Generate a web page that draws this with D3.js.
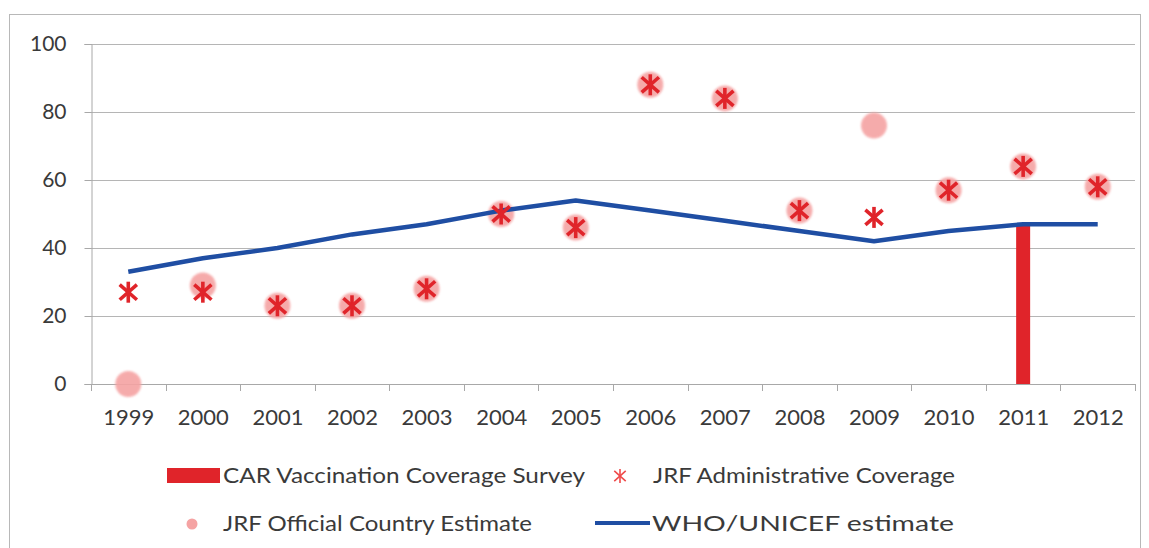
<!DOCTYPE html>
<html>
<head>
<meta charset="utf-8">
<script src="https://cdnjs.cloudflare.com/ajax/libs/d3/7.8.5/d3.min.js"></script>
<style>
  body { margin: 0; background: #fff; }
  svg text { font-family: Lato, "Open Sans", sans-serif; fill: #3a3a3a; }
</style>
</head>
<body>
<div id="chart"></div>
<script>
// data
var years = ["1999","2000","2001","2002","2003","2004","2005","2006","2007","2008","2009","2010","2011","2012"];
var whoUnicef = [33, 37, 40, 44, 47, 51, 54, 51, 48, 45, 42, 45, 47, 47];
var jrfAdmin = [27, 27, 23, 23, 28, 50, 46, 88, 84, 51, 49, 57, 64, 58];
var jrfOfficial = [0, 29, 23, 23, 28, 50, 46, 88, 84, 51, 76, 57, 64, 58];
var carSurvey = [{year: "2011", value: 47}];
var yTicks = [0, 20, 40, 60, 80, 100];

var W = 1149, H = 548;
var m = {left: 91, right: 1135, top: 44, bottom: 384};
var red = "#e0242a", pink = "#f5a3a3", blue = "#1f4ea3";

var svg = d3.select("#chart").append("svg")
    .attr("width", W).attr("height", H);

// soft edge for the pink dots
var f = svg.append("defs").append("filter").attr("id", "soft")
    .attr("x", "-30%").attr("y", "-30%").attr("width", "160%").attr("height", "160%");
f.append("feGaussianBlur").attr("stdDeviation", 1.2);

// outer frame
svg.append("rect")
    .attr("x", 9.5).attr("y", 14.5)
    .attr("width", 1131).attr("height", 545)
    .attr("fill", "#fff").attr("stroke", "#b8b8b8");

var x = d3.scaleBand().domain(years).range([m.left, m.right]);
var y = d3.scaleLinear().domain([0, 100]).range([m.bottom, m.top]);
function cx(d) { return x(d) + x.bandwidth() / 2; }

// gridlines
svg.append("g").selectAll("line")
    .data(yTicks.filter(function(d) { return d > 0; }))
    .enter().append("line")
    .attr("x1", m.left).attr("x2", m.right)
    .attr("y1", function(d) { return Math.round(y(d)) + 0.5; })
    .attr("y2", function(d) { return Math.round(y(d)) + 0.5; })
    .attr("stroke", "#b5b5b5").attr("stroke-width", 1);

// y axis
var yAxis = svg.append("g")
    .attr("transform", "translate(" + (m.left + 0.5) + ",0)")
    .call(d3.axisLeft(y).tickValues(yTicks).tickSize(7).tickPadding(18));
yAxis.select(".domain").attr("stroke", "#a8a8a8");
yAxis.selectAll(".tick line").attr("stroke", "#a8a8a8");
yAxis.selectAll("text").style("font-size", "21px").attr("fill", "#3a3a3a")
    .attr("font-family", "Lato, sans-serif");

// x axis line + ticks between categories
svg.append("line")
    .attr("x1", m.left).attr("x2", m.right)
    .attr("y1", m.bottom + 0.5).attr("y2", m.bottom + 0.5)
    .attr("stroke", "#a8a8a8");
var bounds = years.map(function(d) { return x(d); }).concat([m.right]);
svg.append("g").selectAll("line")
    .data(bounds).enter().append("line")
    .attr("x1", function(d) { return Math.round(d) + 0.5; })
    .attr("x2", function(d) { return Math.round(d) + 0.5; })
    .attr("y1", m.bottom).attr("y2", m.bottom + 7)
    .attr("stroke", "#a8a8a8");
svg.append("g").selectAll("text")
    .data(years).enter().append("text")
    .attr("x", function(d) { return cx(d) - 25; })
    .attr("y", 425)
    .attr("textLength", 51).attr("lengthAdjust", "spacingAndGlyphs")
    .style("font-size", "21px")
    .text(function(d) { return d; });

// survey bar
svg.append("g").selectAll("rect")
    .data(carSurvey).enter().append("rect")
    .attr("x", function(d) { return cx(d.year) - 7; })
    .attr("width", 14)
    .attr("y", function(d) { return y(d.value); })
    .attr("height", function(d) { return y(0) - y(d.value); })
    .attr("fill", red);

// official estimate circles
svg.append("g").selectAll("circle")
    .data(years.map(function(d, i) { return {year: d, v: jrfOfficial[i]}; }))
    .enter().append("circle")
    .attr("cx", function(d) { return cx(d.year); })
    .attr("cy", function(d) { return y(d.v); })
    .attr("r", 13)
    .attr("fill", pink).attr("opacity", 0.9)
    .attr("filter", "url(#soft)");

// WHO/UNICEF line
var line = d3.line()
    .x(function(d, i) { return cx(years[i]); })
    .y(function(d) { return y(d); });
svg.append("path")
    .datum(whoUnicef)
    .attr("d", line)
    .attr("fill", "none")
    .attr("stroke", blue)
    .attr("stroke-width", 4.5)
    .attr("stroke-linejoin", "round");

// admin coverage asterisks
function star(g, s) {
  g.append("line").attr("x1", 0).attr("x2", 0).attr("y1", -s).attr("y2", s);
  g.append("line").attr("x1", -s * 0.82).attr("x2", s * 0.82).attr("y1", -s * 0.72).attr("y2", s * 0.72);
  g.append("line").attr("x1", -s * 0.82).attr("x2", s * 0.82).attr("y1", s * 0.72).attr("y2", -s * 0.72);
}
svg.append("g").selectAll("g")
    .data(years.map(function(d, i) { return {year: d, v: jrfAdmin[i]}; }))
    .enter().append("g")
    .attr("transform", function(d) {
      return "translate(" + cx(d.year) + "," + y(d.v) + ")";
    })
    .attr("stroke", red).attr("stroke-width", 3.6)
    .each(function() { star(d3.select(this), 10.5); });

// legend
var lg = svg.append("g");
function legendText(tx, ty, w, s) {
  lg.append("text").attr("x", tx).attr("y", ty)
    .attr("textLength", w).attr("lengthAdjust", "spacingAndGlyphs")
    .style("font-size", "21px").text(s);
}
lg.append("rect").attr("x", 167).attr("y", 468).attr("width", 53).attr("height", 15).attr("fill", red);
legendText(223, 483, 362, "CAR Vaccination Coverage Survey");
var ls = lg.append("g").attr("transform", "translate(620,476)")
    .attr("stroke", "#ef4a4a").attr("stroke-width", 1.6);
star(ls, 7);
legendText(653, 483, 302, "JRF Administrative Coverage");
lg.append("circle").attr("cx", 192).attr("cy", 524).attr("r", 5.5).attr("fill", pink);
legendText(223, 531, 309, "JRF Official Country Estimate");
lg.append("line").attr("x1", 595).attr("x2", 650).attr("y1", 523).attr("y2", 523)
    .attr("stroke", blue).attr("stroke-width", 4);
legendText(652, 531, 302, "WHO/UNICEF estimate");
</script>
</body>
</html>
